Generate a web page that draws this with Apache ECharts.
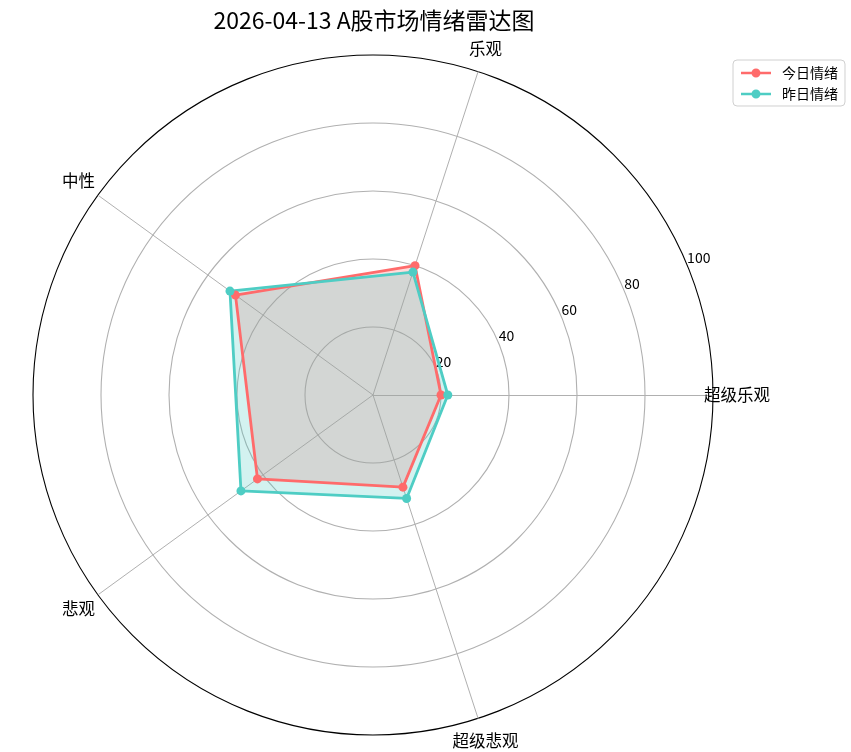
<!DOCTYPE html>
<html>
<head>
<meta charset="utf-8">
<script src="https://cdn.jsdelivr.net/npm/echarts@6/dist/echarts.min.js"></script>
<style>
  html, body { margin: 0; padding: 0; background: #fff; }
  #main { width: 851px; height: 752px; }
</style>
</head>
<body>
<div id="main"></div>
<script>
// 数据
var indicators = ['超级乐观', '乐观', '中性', '悲观', '超级悲观'];
var todayValues = [20, 40, 50, 42, 28.5];
var yesterdayValues = [22, 38, 52, 48, 32];
var seriesNames = ['今日情绪', '昨日情绪'];
var seriesColors = ['#ff6b6b', '#4ecdc4'];
var radialTicks = [0, 20, 40, 60, 80, 100];

var FONT = 'Noto Sans CJK SC';
var legendIcon = 'path://M0,3.3 L30,3.3 L30,5.7 L0,5.7 Z M10.5,4.5 A4.5,4.5 0 1 1 19.5,4.5 A4.5,4.5 0 1 1 10.5,4.5 Z';

var myChart = echarts.init(document.getElementById('main'));

var allValues = [todayValues, yesterdayValues];

// 填充区域在下，折线在上（与 matplotlib 的 zorder 一致）
var areaSeries = allValues.map(function (vals, i) {
    return {
        name: seriesNames[i],
        type: 'radar',
        z: 1,
        symbol: 'none',
        silent: true,
        itemStyle: { color: seriesColors[i] },
        lineStyle: { width: 0, opacity: 0 },
        areaStyle: { color: seriesColors[i], opacity: 0.25 },
        data: [{ name: seriesNames[i], value: vals }]
    };
});
var lineSeries = allValues.map(function (vals, i) {
    return {
        name: seriesNames[i],
        type: 'radar',
        z: 2,
        symbol: 'circle',
        symbolSize: 9,
        itemStyle: { color: seriesColors[i] },
        lineStyle: { color: seriesColors[i], width: 2.8 },
        data: [{ name: seriesNames[i], value: vals }]
    };
});

var option = {
    backgroundColor: '#fff',
    animation: false,
    title: {
        text: '2026-04-13 A股市场情绪雷达图',
        left: 369,
        textAlign: 'center',
        top: 4,
        textStyle: { fontFamily: FONT, fontSize: 23, fontWeight: 'normal', color: '#000' }
    },
    legend: {
        data: seriesNames,
        orient: 'vertical',
        left: 733,
        top: 60,
        padding: [6, 7, 5, 8],
        itemGap: 7,
        itemWidth: 30,
        itemHeight: 9,
        icon: legendIcon,
        borderColor: '#d0d0d0',
        borderWidth: 1,
        borderRadius: 4,
        textStyle: { fontFamily: FONT, fontSize: 14, color: '#000', padding: [0, 0, 0, 6] }
    },
    radar: {
        center: [373, 395],
        radius: 340,
        startAngle: 0,
        shape: 'circle',
        splitNumber: 5,
        nameGap: 24,
        indicator: indicators.map(function (n) { return { name: n, max: 100, min: 0 }; }),
        axisName: {
            color: '#000',
            fontFamily: FONT,
            fontSize: 16.5,
            align: 'center',
            verticalAlign: 'middle'
        },
        axisLine: { lineStyle: { color: '#b0b0b0', width: 1 } },
        splitLine: {
            lineStyle: {
                color: ['#b0b0b0', '#b0b0b0', '#b0b0b0', '#b0b0b0', '#b0b0b0', '#000000'],
                width: 1.1
            }
        },
        splitArea: { show: false }
    },
    // 径向刻度标签
    polar: { center: [373, 395], radius: 340 },
    angleAxis: {
        type: 'value', min: 0, max: 360, startAngle: 22.5,
        axisLine: { show: false }, axisTick: { show: false },
        axisLabel: { show: false }, splitLine: { show: false }
    },
    radiusAxis: {
        type: 'value', min: 0, max: 100, interval: 20,
        axisLine: { show: false }, axisTick: { show: false }, splitLine: { show: false },
        axisLabel: {
            margin: 0,
            align: 'left',
            verticalAlign: 'bottom',
            fontFamily: FONT,
            fontSize: 14,
            color: '#000',
            formatter: function (v) { return radialTicks.indexOf(v) > 0 ? String(v) : ''; }
        }
    },
    series: areaSeries.concat(lineSeries)
};

myChart.setOption(option);
</script>
</body>
</html>
